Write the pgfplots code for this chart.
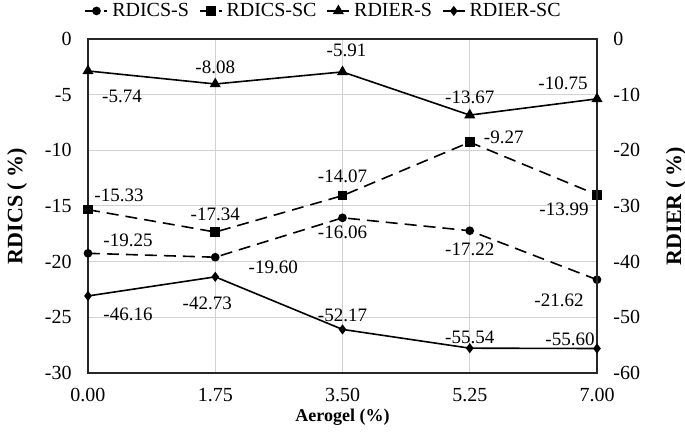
\documentclass[border=0pt]{standalone}
\usepackage{fontspec}
\setmainfont{Liberation Serif}
\usepackage{pgfplots}
\pgfplotsset{compat=1.18}
\usepackage{pgfplotstable}

% x, value, label offset (dx, dy in pt)
\pgfplotstableread{
x y dx dy
0 -19.25 20 6.5
1.75 -19.60 29 -5
3.5 -16.06 0 -7.5
5.25 -17.22 0 -9.5
7 -21.62 -19 -10.5
}\rdicsS
\pgfplotstableread{
x y dx dy
0 -15.33 15.5 7
1.75 -17.34 0 9
3.5 -14.07 0 9.5
5.25 -9.27 17 2.5
7 -13.99 -16.5 -7.5
}\rdicsSC
\pgfplotstableread{
x y dx dy
0 -5.74 17 -12.5
1.75 -8.08 0 8.5
3.5 -5.91 2 11
5.25 -13.67 0 9
7 -10.75 -17 8
}\rdierS
\pgfplotstableread{
x y dx dy
0 -46.16 20 -9
1.75 -42.73 -4 -13
3.5 -52.17 0 7
5.25 -55.54 0 5.5
7 -55.60 -13.5 4.5
}\rdierSC

\pgfkeys{/pgf/number format/assume math mode=true}
\pgfplotsset{
  lbl/.style={
    visualization depends on={\thisrow{dx}\as\dx},
    visualization depends on={\thisrow{dy}\as\dy},
    nodes near coords={\pgfmathprintnumber[fixed,fixed zerofill,precision=2]{\pgfplotspointmeta}},
    every node near coord/.append style={anchor=center, xshift=\dx pt, yshift=\dy pt,
      font=\fontsize{9.5}{11}\selectfont, text=black},
  },
  sS/.style={black, line width=0.8pt, dash pattern=on 6pt off 3.5pt, mark=*, mark size=1.75pt, mark options={solid}},
  sSC/.style={black, line width=0.8pt, dash pattern=on 6pt off 3.5pt, mark=square*, mark size=2pt, mark options={solid}},
  rS/.style={black, line width=0.8pt, solid, mark=triangle*, mark size=2.4pt},
  rSC/.style={black, line width=0.8pt, solid, mark=diamond*, mark size=1.9pt},
  common/.style={
    width=254.5pt, height=167pt, scale only axis,
    xmin=0, xmax=7, clip=false,
    major tick length=0pt,
    tick label style={font=\fontsize{10}{12}\selectfont},
    axis line style={black!85, line width=0.8pt},
  },
}

\begin{document}
\begin{tikzpicture}
\begin{axis}[
  common,
  ymin=-30, ymax=0,
  xtick={0,1.75,3.5,5.25,7},
  ytick={-30,-25,...,0},
  xticklabel style={yshift=-4pt, /pgf/number format/.cd, fixed, fixed zerofill, precision=2},
  yticklabel style={xshift=-4.7pt},
  yticklabel pos=left,
  grid=major, grid style={gray!35, line width=0.5pt},
  xlabel={Aerogel (\%)},
  xlabel style={at={(axis description cs:0.5,-0.132)}, anchor=center, font=\fontsize{9}{11}\selectfont\bfseries},
  ylabel={RDICS ( \%)},
  ylabel style={at={(axis description cs:-0.1395,0.5)}, anchor=center, font=\fontsize{11}{13}\selectfont\bfseries},
  legend style={at={(axis description cs:0.465,1.084)}, anchor=center, draw=none, fill=none,
    legend columns=4, font=\fontsize{10}{12}\selectfont, inner sep=0pt,
    /tikz/every even column/.append style={column sep=3pt}},
  legend image code/.code={\draw[mark repeat=2, mark phase=2, #1] plot coordinates {(0pt,0pt) (5.5pt,0pt) (11pt,0pt)};},
]
\coordinate (O) at (rel axis cs:0,0);
\addplot[sS, lbl] table[x=x, y=y] {\rdicsS};
\addplot[sSC, lbl] table[x=x, y=y] {\rdicsSC};
\addlegendimage{rS}
\addlegendimage{rSC}
\legend{RDICS-S, RDICS-SC, RDIER-S, RDIER-SC}
\end{axis}
\begin{axis}[
  common,
  ymin=-60, ymax=0,
  ytick={-60,-50,...,0},
  axis x line=none, axis y line*=right,
  yticklabel style={xshift=4.7pt},
  ylabel={RDIER ( \%)},
  ylabel style={at={(axis description cs:1.155,0.5)}, anchor=center, font=\fontsize{11}{13}\selectfont\bfseries},
]
\addplot[rS, lbl] table[x=x, y=y] {\rdierS};
\addplot[rSC, lbl] table[x=x, y=y] {\rdierSC};
\end{axis}
\pgfresetboundingbox
\path (O) ++(-44pt,-32.5pt) rectangle ++(342.5pt,219pt);
\end{tikzpicture}
\end{document}
